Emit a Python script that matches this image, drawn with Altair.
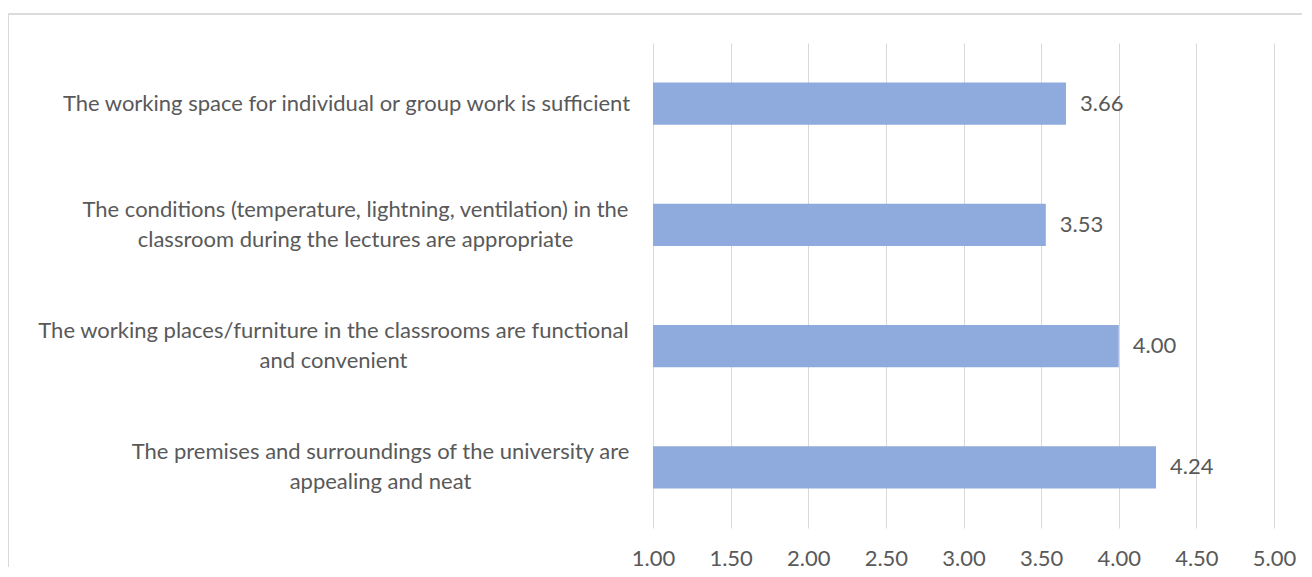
import altair as alt
import pandas as pd

# ---- data ----
categories = [
    "The working space for individual or group work is sufficient",
    "The conditions (temperature, lightning, ventilation) in the\nclassroom during the lectures are appropriate",
    "The working places/furniture in the classrooms are functional\nand convenient",
    "The premises and surroundings of the university are\nappealing and neat",
]
values = [3.66, 3.53, 4.00, 4.24]
x_ticks = [1.0, 1.5, 2.0, 2.5, 3.0, 3.5, 4.0, 4.5, 5.0]

df = pd.DataFrame({"item": categories, "score": values})

FONT = "Lato"
TEXT = "#595959"
GRID = "#D9D9D9"
BAR = "#8FAADC"
W, H = 621, 485
FS = 22
LH = 30

# per-label padding so that each multi-line block is right-aligned with centred lines
label_keys = ["working space", "conditions", "working places", "premises"]
label_pads = [307, 298, 320, 273]
pad_cond = {
    "condition": [
        {"test": f"indexof(datum.value, '{k}') >= 0", "value": p}
        for k, p in zip(label_keys, label_pads)
    ],
    "value": 300,
}
# two-line labels: shift up by half a line so the block is centred on the bar
offset_cond = {
    "condition": {"test": "indexof(datum.value, '\\n') >= 0", "value": -LH / 2},
    "value": 0,
}

x_enc = alt.X(
    "score:Q",
    scale=alt.Scale(domain=[1, 5], nice=False, zero=False),
    axis=alt.Axis(
        values=x_ticks, format=".2f", title=None, domain=False, ticks=False,
        grid=True, gridColor=GRID, gridWidth=1, labelPadding=20, labelFlush=False,
        labelFontSize=FS, labelColor=TEXT, labelFont=FONT,
    ),
)
y_enc = alt.Y(
    "item:N",
    sort=categories,
    scale=alt.Scale(paddingInner=0.65, paddingOuter=0.325),
    axis=alt.Axis(
        title=None, domain=False, ticks=False, grid=False,
        labelExpr="split(datum.label, '\\n')",
        labelAlign="center", labelBaseline="middle",
        labelPadding=pad_cond, labelOffset=offset_cond,
        labelLimit=2000, labelOverlap=False,
        labelFontSize=FS, labelColor=TEXT, labelFont=FONT, labelLineHeight=LH,
    ),
)

bars = alt.Chart(df).mark_bar(color=BAR, clip=True).encode(x=x_enc, y=y_enc)

value_labels = alt.Chart(df).mark_text(
    align="left", baseline="middle", dx=14, fontSize=FS, color=TEXT, font=FONT
).encode(
    x="score:Q",
    y=alt.Y("item:N", sort=categories),
    text=alt.Text("score:Q", format=".2f"),
)

# thin frame around the chart area (decoration)
frame_top = alt.Chart(df).mark_rule(color=GRID, strokeWidth=1).encode(
    x=alt.value(-644.5), x2=alt.value(W + 28), y=alt.value(-29)
)
frame_left = alt.Chart(df).mark_rule(color=GRID, strokeWidth=1).encode(
    x=alt.value(-644.5), y=alt.value(-29), y2=alt.value(H + 39)
)

chart = (
    alt.layer(bars, value_labels, frame_top, frame_left)
    .properties(
        width=W, height=H,
        padding={"left": 0, "top": 5, "right": 0, "bottom": 0},
        background="white",
    )
    .configure(font=FONT)
    .configure_view(strokeWidth=0, strokeOpacity=0)
)

chart.save("out.html", embed_options={"renderer": "svg", "actions": False})
